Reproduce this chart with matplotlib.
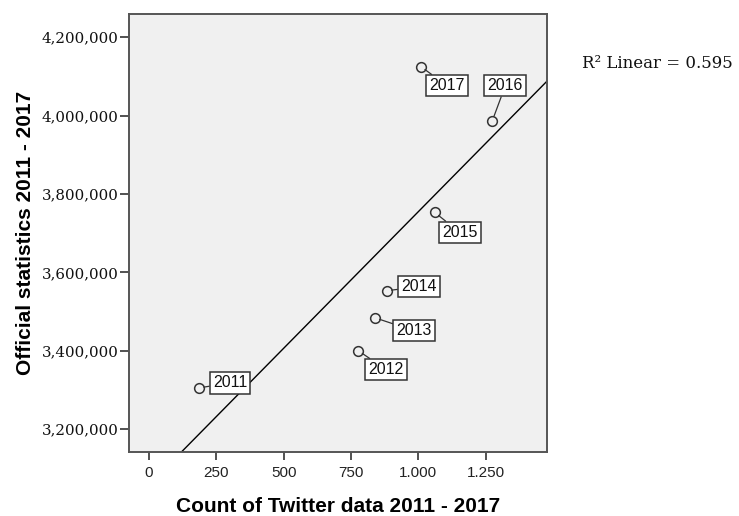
import numpy as np
import matplotlib
import matplotlib.pyplot as plt

matplotlib.use("agg")

# yearly totals: tweet counts vs. official statistics
years = ["2011", "2012", "2013", "2014", "2015", "2016", "2017"]
twitter_count = [186, 777, 839, 883, 1061, 1275, 1010]
official_stats = [3305000, 3400000, 3484000, 3553000, 3753000, 3987000, 4125000]

x_ticks = [0, 250, 500, 750, 1000, 1250]
x_tick_labels = ["0", "250", "500", "750", "1.000", "1.250"]
y_ticks = [3200000, 3400000, 3600000, 3800000, 4000000, 4200000]
y_tick_labels = ["3,200,000", "3,400,000", "3,600,000", "3,800,000", "4,000,000", "4,200,000"]

# label box offsets from each point, in pixels
label_offsets = [(31, 5), (28, -19), (39, -13), (32, 4), (25, -20), (13, 35), (26, -19)]

r2_text = "R² Linear = 0.595"

x = np.array(twitter_count, dtype=float)
y = np.array(official_stats, dtype=float)
slope, intercept = np.polyfit(x, y, 1)

fig = plt.figure(figsize=(7.39, 5.16), dpi=100)
ax = fig.add_axes([0.1746, 0.124, 0.5656, 0.849])
ax.set_facecolor("#f0f0f0")

xmin, xmax = -74, 1478
ymin, ymax = 3141300, 4259600
ax.set_xlim(xmin, xmax)
ax.set_ylim(ymin, ymax)

# fit line across the whole plot area
xs = np.array([xmin, xmax])
ax.plot(xs, slope * xs + intercept, color="black", lw=1.0, zorder=2)

ax.plot(x, y, linestyle="none", marker="o", markersize=7, markerfacecolor="none",
        markeredgecolor="#333333", markeredgewidth=1.1, zorder=3)

for yr, xi, yi, (dx, dy) in zip(years, x, y, label_offsets):
    ax.annotate(yr, (xi, yi), xytext=(dx, dy), textcoords="offset pixels",
                ha="center", va="center", fontsize=11.5, family="Liberation Sans",
                color="#111111",
                bbox=dict(boxstyle="square,pad=0.2", fc="white", ec="#333333", lw=1.1),
                arrowprops=dict(arrowstyle="-", color="#333333", lw=0.9,
                                shrinkA=0, shrinkB=3.5),
                zorder=4)

ax.set_xticks(x_ticks)
ax.set_xticklabels(x_tick_labels, family="Liberation Sans", fontsize=11, color="#222222")
ax.set_yticks(y_ticks)
ax.set_yticklabels(y_tick_labels, family="DejaVu Serif", fontsize=10.8, color="#111111")
ax.tick_params(axis="x", length=6, width=1.2, pad=4, color="#333333")
ax.tick_params(axis="y", length=6.5, width=1.2, pad=1, color="#333333")

for side in ["top", "right", "bottom", "left"]:
    ax.spines[side].set_color("#555555")
    ax.spines[side].set_linewidth(1.4)

ax.set_xlabel("Count of Twitter data 2011 - 2017", family="Liberation Sans",
              fontsize=15, fontweight="bold", labelpad=12)
ax.set_ylabel("Official statistics 2011 - 2017", family="Liberation Sans",
              fontsize=15, fontweight="bold", labelpad=5)

fig.text(0.7875, 0.876, r2_text, family="DejaVu Serif", fontsize=12, color="#111111",
         ha="left", va="center")

fig.savefig("out.png", dpi=100)
